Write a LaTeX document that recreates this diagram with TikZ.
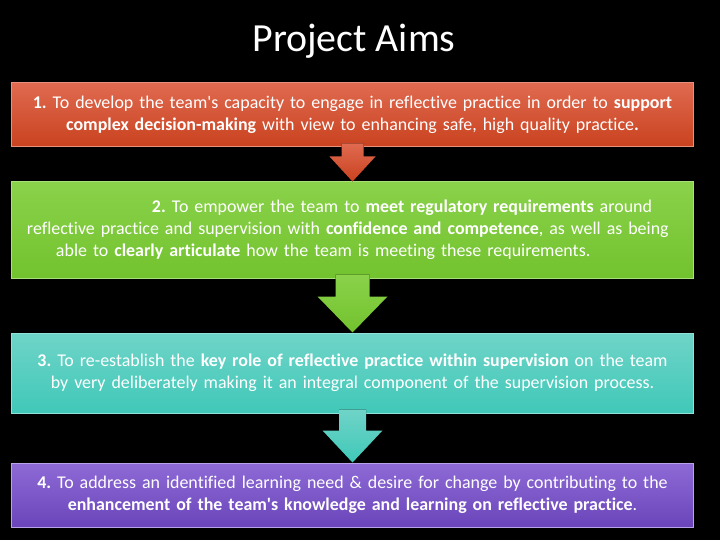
\documentclass[tikz,border=0pt]{standalone}
\usepackage{fontspec}
\setmainfont{Carlito}[Ligatures={NoCommon}]
\usetikzlibrary{calc}
\definecolor{redT}{HTML}{E06A50}
\definecolor{redB}{HTML}{C9421F}
\definecolor{redD}{HTML}{E8907C}
\definecolor{greenT}{HTML}{8AD24A}
\definecolor{greenB}{HTML}{72C22E}
\definecolor{greenD}{HTML}{A8E07A}
\definecolor{tealT}{HTML}{6FD4C8}
\definecolor{tealB}{HTML}{40C8B8}
\definecolor{tealD}{HTML}{90E2D8}
\definecolor{purpT}{HTML}{8E6AD6}
\definecolor{purpB}{HTML}{6A45BA}
\definecolor{purpD}{HTML}{B8A2EA}
\tikzset{
  aim/.style={rectangle, draw, line width=1bp, minimum width=681bp, text width=681bp, inner sep=0pt,
              align=center, text=white, font=\fontsize{18}{22}\selectfont\frenchspacing},
  redaim/.style={aim, top color=redT, bottom color=redB, draw=redD},
  greenaim/.style={aim, top color=greenT, bottom color=greenB, draw=greenD},
  tealaim/.style={aim, top color=tealT, bottom color=tealB, draw=tealD},
  purpaim/.style={aim, top color=purpT, bottom color=purpB, draw=purpD},
  redarr/.style={top color=redT, bottom color=redB},
  greenarr/.style={top color=greenT, bottom color=greenB},
  tealarr/.style={top color=tealT, bottom color=tealB},
}
\newcommand\blockarr[6]{\fill[#6] ($(#1.south)+(-#3,-4)$) -- ($(#2.north)+(-#3,-#5)$) -- ($(#2.north)+(-#4,-#5)$)
  -- (#2.north) -- ($(#2.north)+(#4,-#5)$) -- ($(#2.north)+(#3,-#5)$) -- ($(#1.south)+(#3,-4)$) -- cycle;}

\begin{document}
\begin{tikzpicture}[x=1bp, y=-1bp]
\fill[black] (0,0) rectangle (720,540);
\node[text=white, font=\fontsize{40}{48}\selectfont, anchor=base] (title) at (354,52) {Project Aims};
\node[redaim, minimum height=64bp] (one) at (352.5,115) {\textbf{1.} To develop the team\textquotesingle s capacity to engage in reflective practice in order to \textbf{support}\\
  \textbf{complex decision-making} with view to enhancing safe, high quality practice\textbf{.}};
\node[greenaim, minimum height=96bp, align=left] (two) at (352.5,230) {\hspace*{140bp}\textbf{2.} To empower the team to \textbf{meet regulatory requirements} around\\
  \hspace*{15bp}reflective practice and supervision with \textbf{confidence and competence}, as well as being\\
  \hspace*{44bp}able to \textbf{clearly articulate} how the team is meeting these requirements.};
\node[tealaim, minimum height=80bp] (three) at (352.5,373) {\textbf{3.} To re-establish the \textbf{key role of reflective practice within supervision} on the team\\
  by very deliberately making it an integral component of the supervision process.};
\node[purpaim, minimum height=64bp] (four) at (352.5,495) {\textbf{4.} To address an identified learning need \& desire for change by contributing to the\\
  \textbf{enhancement of the team\textquotesingle s knowledge and learning on reflective practice}.};
\blockarr{one}{two}{11}{23}{25}{redarr}
\blockarr{two}{three}{17}{35}{36}{greenarr}
\blockarr{three}{four}{13.5}{30}{32}{tealarr}
\end{tikzpicture}
\end{document}
